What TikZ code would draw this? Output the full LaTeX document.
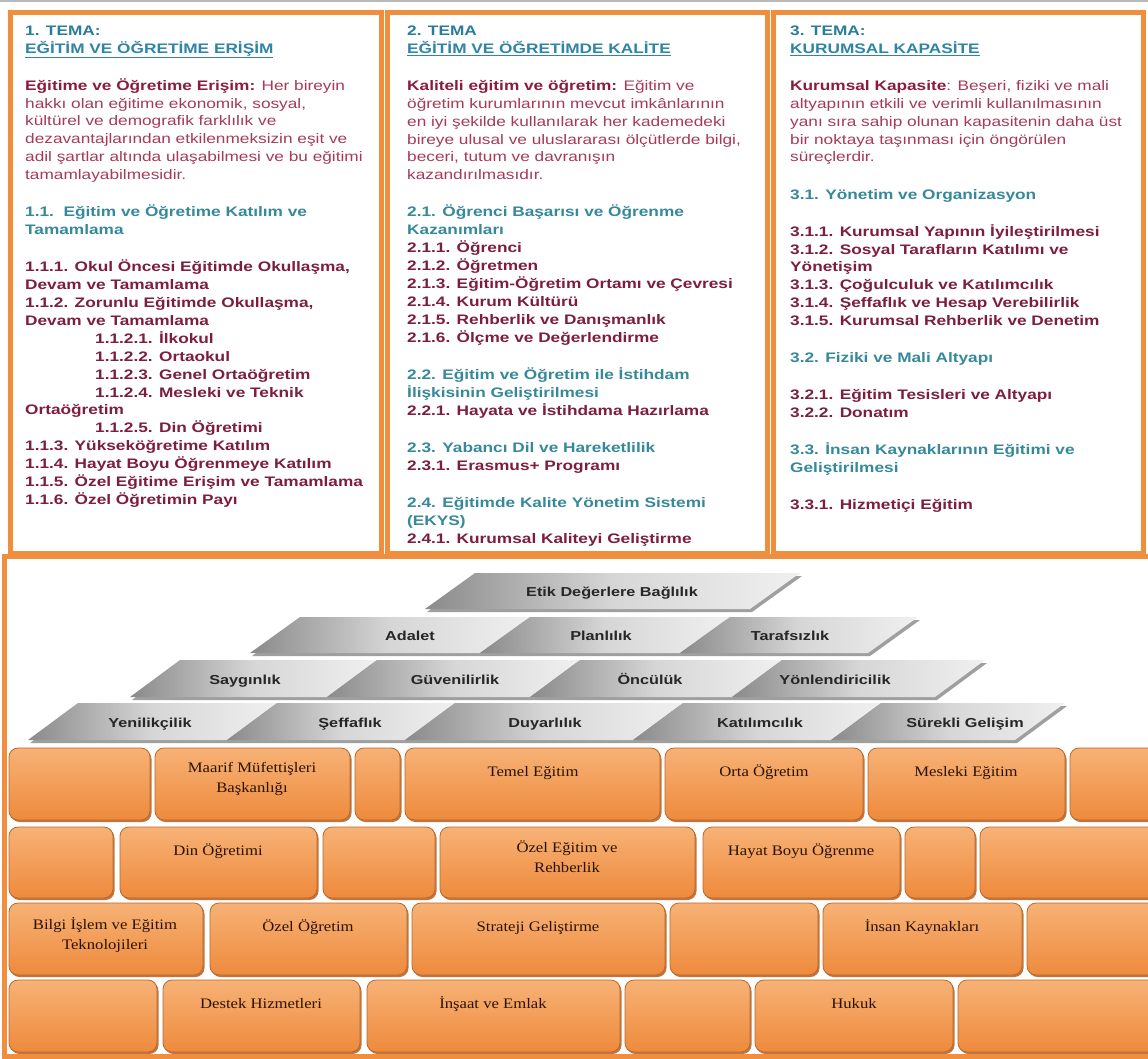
\documentclass[tikz,border=0pt]{standalone}
\usepackage{fontspec}
\setmainfont[FakeStretch=1.25]{Liberation Sans}
\newfontfamily\brickfont[FakeStretch=1.15]{Liberation Serif}
\usetikzlibrary{shadows}

\definecolor{frameorange}{HTML}{F08E3E}
\definecolor{temablue}{HTML}{2A7C9C}
\definecolor{subblue}{HTML}{2F85A8}
\definecolor{leadred}{HTML}{8A1D3D}
\definecolor{bodyred}{HTML}{A53B58}
\definecolor{secteal}{HTML}{36899A}
\definecolor{itemred}{HTML}{7D1E3D}
\definecolor{bricktop}{HTML}{F7B276}
\definecolor{brickbot}{HTML}{EE8A3C}
\definecolor{brickedge}{HTML}{B9682C}
\definecolor{brickink}{HTML}{2A1204}
\definecolor{slabdark}{HTML}{8A8A8A}
\definecolor{slabmid}{HTML}{D6D6D6}
\definecolor{slablight}{HTML}{F0F0F0}
\definecolor{slabink}{HTML}{262626}

\newcommand{\temano}[1]{\textcolor{temablue}{\textbf{#1}}}
\newcommand{\temaname}[1]{\textcolor{subblue}{\textbf{\underline{#1}}}}
\newcommand{\leadin}[1]{\textcolor{leadred}{\textbf{#1}}}
\newcommand{\secline}[1]{\textcolor{secteal}{\textbf{#1}}}
\newcommand{\subline}[1]{\textcolor{itemred}{\textbf{#1}}}

\tikzstyle{panel} = [draw=frameorange, line width=5pt, fill=white]
\tikzstyle{panetext} = [anchor=north west, inner sep=0pt, align=left,
text=bodyred, font=\fontsize{13.8}{17.9}\selectfont,
execute at begin node=\strut]
\tikzstyle{brick} = [draw=brickedge, line width=0.8pt, rounded corners=9pt,
top color=bricktop, bottom color=brickbot,
drop shadow={shadow xshift=1.5pt, shadow yshift=-2pt, fill=brickedge, opacity=.9}]
\tikzstyle{bricklabel} = [anchor=north, inner sep=0pt, align=center,
text=brickink, font=\brickfont\fontsize{14.5}{20}\selectfont,
execute at begin node=\strut]
\tikzstyle{slab} = [left color=slabdark, right color=slablight, middle color=slabmid]
\tikzstyle{slablabel} = [anchor=base, inner sep=0pt, text=slabink,
font=\bfseries\fontsize{13}{15}\selectfont]

% one slanted piece of the values stairs: left x, right x, top y, bottom y
\newcommand{\slab}[4]{\shade[slab] ({#1+25},#3) -- ({#2+25},#3) -- ({#2-25},#4) -- ({#1-25},#4) -- cycle;}
\newcommand{\slabshadow}[4]{\fill[gray!75] ({#1+27},{#3+3}) -- ({#2+27},{#3+3}) -- ({#2-23},{#4+3}) -- ({#1-23},{#4+3}) -- cycle;}

\begin{document}
\begin{tikzpicture}[x=1pt, y=-1pt]
\useasboundingbox (0,0) rectangle (1148,1059);
\fill[white] (0,0) rectangle (1148,1059);
\fill[gray!55] (0,0) rectangle (1148,2.5);

% three themes
\draw[panel] (10.5,12.5) rectangle (381,553);
\draw[panel] (387,12.5) rectangle (767,553);
\draw[panel] (773,12.5) rectangle (1143,553);

\node[panetext] (tema1) at (25,25.5) {%
\temano{1. TEMA:}\\
\temaname{EĞİTİM VE ÖĞRETİME ERİŞİM}\\[19.2pt]
\leadin{Eğitime ve Öğretime Erişim:} Her bireyin\\
hakkı olan eğitime ekonomik, sosyal,\\
kültürel ve demografik farklılık ve\\
dezavantajlarından etkilenmeksizin eşit ve\\
adil şartlar altında ulaşabilmesi ve bu eğitimi\\
tamamlayabilmesidir.\\[19.2pt]
\secline{1.1.\ \ Eğitim ve Öğretime Katılım ve}\\
\secline{Tamamlama}\\[19.2pt]
\subline{1.1.1. Okul Öncesi Eğitimde Okullaşma,}\\
\subline{Devam ve Tamamlama}\\
\subline{1.1.2. Zorunlu Eğitimde Okullaşma,}\\
\subline{Devam ve Tamamlama}\\
\hspace*{70pt}\subline{1.1.2.1. İlkokul}\\
\hspace*{70pt}\subline{1.1.2.2. Ortaokul}\\
\hspace*{70pt}\subline{1.1.2.3. Genel Ortaöğretim}\\
\hspace*{70pt}\subline{1.1.2.4. Mesleki ve Teknik}\\
\subline{Ortaöğretim}\\
\hspace*{70pt}\subline{1.1.2.5. Din Öğretimi}\\
\subline{1.1.3. Yükseköğretime Katılım}\\
\subline{1.1.4. Hayat Boyu Öğrenmeye Katılım}\\
\subline{1.1.5. Özel Eğitime Erişim ve Tamamlama}\\
\subline{1.1.6. Özel Öğretimin Payı}};

\node[panetext] (tema2) at (407,25.5) {%
\temano{2. TEMA}\\
\temaname{EĞİTİM VE ÖĞRETİMDE KALİTE}\\[19.2pt]
\leadin{Kaliteli eğitim ve öğretim:} Eğitim ve\\
öğretim kurumlarının mevcut imkânlarının\\
en iyi şekilde kullanılarak her kademedeki\\
bireye ulusal ve uluslararası ölçütlerde bilgi,\\
beceri, tutum ve davranışın\\
kazandırılmasıdır.\\[19.2pt]
\secline{2.1. Öğrenci Başarısı ve Öğrenme}\\
\secline{Kazanımları}\\
\subline{2.1.1. Öğrenci}\\
\subline{2.1.2. Öğretmen}\\
\subline{2.1.3. Eğitim-Öğretim Ortamı ve Çevresi}\\
\subline{2.1.4. Kurum Kültürü}\\
\subline{2.1.5. Rehberlik ve Danışmanlık}\\
\subline{2.1.6. Ölçme ve Değerlendirme}\\[19.2pt]
\secline{2.2. Eğitim ve Öğretim ile İstihdam}\\
\secline{İlişkisinin Geliştirilmesi}\\
\subline{2.2.1. Hayata ve İstihdama Hazırlama}\\[19.2pt]
\secline{2.3. Yabancı Dil ve Hareketlilik}\\
\subline{2.3.1. Erasmus+ Programı}\\[19.2pt]
\secline{2.4. Eğitimde Kalite Yönetim Sistemi}\\
\secline{(EKYS)}\\
\subline{2.4.1. Kurumsal Kaliteyi Geliştirme}};

\node[panetext] (tema3) at (790,25.5) {%
\temano{3. TEMA:}\\
\temaname{KURUMSAL KAPASİTE}\\[19.2pt]
\leadin{Kurumsal Kapasite}: Beşeri, fiziki ve mali\\
altyapının etkili ve verimli kullanılmasının\\
yanı sıra sahip olunan kapasitenin daha üst\\
bir noktaya taşınması için öngörülen\\
süreçlerdir.\\[19.2pt]
\secline{3.1. Yönetim ve Organizasyon}\\[19.2pt]
\subline{3.1.1. Kurumsal Yapının İyileştirilmesi}\\
\subline{3.1.2. Sosyal Tarafların Katılımı ve}\\
\subline{Yönetişim}\\
\subline{3.1.3. Çoğulculuk ve Katılımcılık}\\
\subline{3.1.4. Şeffaflık ve Hesap Verebilirlik}\\
\subline{3.1.5. Kurumsal Rehberlik ve Denetim}\\[19.2pt]
\secline{3.2. Fiziki ve Mali Altyapı}\\[19.2pt]
\subline{3.2.1. Eğitim Tesisleri ve Altyapı}\\
\subline{3.2.2. Donatım}\\[19.2pt]
\secline{3.3. İnsan Kaynaklarının Eğitimi ve}\\
\secline{Geliştirilmesi}\\[19.2pt]
\subline{3.3.1. Hizmetiçi Eğitim}};

% values stairs
\slabshadow{450}{775}{573}{609}
\slab{450}{775}{573}{609}
\node[slablabel] (etik) at (612,596) {Etik Değerlere Bağlılık};

\slabshadow{275}{893}{617}{653}
\slab{275}{505}{617}{653}
\slab{505}{705}{617}{653}
\slab{705}{893}{617}{653}
\node[slablabel] (adalet) at (410,640) {Adalet};
\node[slablabel] (planlilik) at (601,640) {Planlılık};
\node[slablabel] (tarafsizlik) at (790,640) {Tarafsızlık};

\slabshadow{155}{960}{660}{697}
\slab{155}{352}{660}{697}
\slab{352}{555}{660}{697}
\slab{555}{757}{660}{697}
\slab{757}{960}{660}{697}
\node[slablabel] (saygi) at (245,684) {Saygınlık};
\node[slablabel] (guven) at (455,684) {Güvenilirlik};
\node[slablabel] (oncu) at (650,684) {Öncülük};
\node[slablabel] (yonlen) at (835,684) {Yönlendiricilik};

\slabshadow{53}{1040}{703}{740}
\slab{53}{252}{703}{740}
\slab{252}{430}{703}{740}
\slab{430}{658}{703}{740}
\slab{658}{856}{703}{740}
\slab{856}{1040}{703}{740}
\node[slablabel] (yeni) at (150,727) {Yenilikçilik};
\node[slablabel] (seffaf) at (350,727) {Şeffaflık};
\node[slablabel] (duyar) at (545,727) {Duyarlılık};
\node[slablabel] (katilim) at (760,727) {Katılımcılık};
\node[slablabel] (surekli) at (965,727) {Sürekli Gelişim};

% brick wall of units
\begin{scope}
\clip (7.5,744) rectangle (1150,1053.5);
\foreach \xa/\xb in {9/150,155/350,355/400,405/660,665/863,868/1065,1070/1170}
  \draw[brick] (\xa,748) rectangle (\xb,820);
\foreach \xa/\xb in {9/113,120/317,323/435,440/695,703/900,905/975,980/1170}
  \draw[brick] (\xa,827) rectangle (\xb,898);
\foreach \xa/\xb in {9/203,210/407,412/665,670/818,823/1022,1027/1170}
  \draw[brick] (\xa,903) rectangle (\xb,975);
\foreach \xa/\xb in {9/157,163/360,367/620,625/750,755/953,958/1170}
  \draw[brick] (\xa,980) rectangle (\xb,1052);
\end{scope}

\node[bricklabel] (maarif) at (252,762) {Maarif Müfettişleri\\Başkanlığı};
\node[bricklabel] (temel) at (533,762) {Temel Eğitim};
\node[bricklabel] (orta) at (764,762) {Orta Öğretim};
\node[bricklabel] (mesleki) at (966,762) {Mesleki Eğitim};
\node[bricklabel] (din) at (218,841) {Din Öğretimi};
\node[bricklabel] (ozelegitim) at (567,841) {Özel Eğitim ve\\Rehberlik};
\node[bricklabel] (hayat) at (801,841) {Hayat Boyu Öğrenme};
\node[bricklabel] (bilgi) at (105,917) {Bilgi İşlem ve Eğitim\\Teknolojileri};
\node[bricklabel] (ozelogretim) at (308,917) {Özel Öğretim};
\node[bricklabel] (strateji) at (538,917) {Strateji Geliştirme};
\node[bricklabel] (insan) at (922,917) {İnsan Kaynakları};
\node[bricklabel] (destek) at (261,994) {Destek Hizmetleri};
\node[bricklabel] (insaat) at (493,994) {İnşaat ve Emlak};
\node[bricklabel] (hukuk) at (854,994) {Hukuk};

\draw[frameorange, line width=5pt] (4.5,556) rectangle (1155,1056.5);
\end{tikzpicture}
\end{document}
